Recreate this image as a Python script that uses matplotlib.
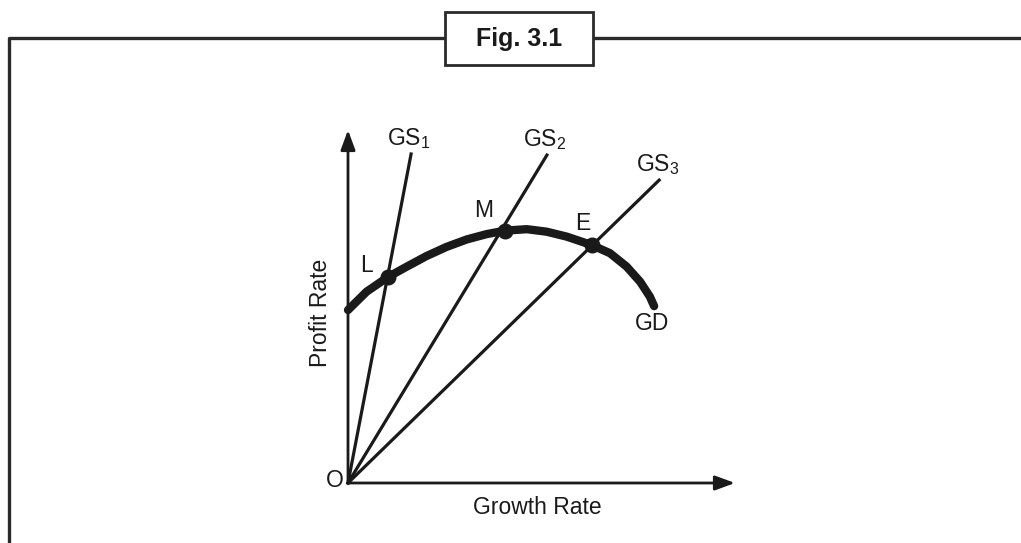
import matplotlib
matplotlib.use('Agg')
import matplotlib.pyplot as plt
from matplotlib.patches import Rectangle
from matplotlib.lines import Line2D

plt.rcParams['font.family'] = ['Liberation Sans', 'DejaVu Sans']
plt.rcParams['mathtext.fontset'] = 'custom'
plt.rcParams['mathtext.rm'] = 'Liberation Sans'
plt.rcParams['mathtext.it'] = 'Liberation Sans'
plt.rcParams['mathtext.default'] = 'regular'

# curva GD (tasa de crecimiento vs tasa de beneficio)
gd_x = [0, 4.8, 10.4, 15.2, 20.3, 25.5, 30.7, 35.8, 40.6, 46.2, 51.3,
        56.5, 63.0, 67.7, 72.0, 75.5, 78.0, 79.1]
gd_y = [49.0, 54.2, 58.4, 61.3, 64.3, 66.9, 69.0, 70.5, 71.5, 71.9, 71.2,
        69.8, 67.4, 65.1, 61.3, 57.0, 52.8, 50.1]

# puntos de equilibrio L, M, E
pt_names = ['L', 'M', 'E']
pt_x = [10.4, 40.6, 63.0]
pt_y = [58.4, 71.5, 67.4]

# rectas GS desde el origen (extremo superior)
gs_names = ['GS$_1$', 'GS$_2$', 'GS$_3$']
gs_x = [16.3, 51.4, 80.4]
gs_y = [93.2, 92.9, 85.8]

ink = '#1a1a1a'
W, H = 1021, 543
fig = plt.figure(figsize=(W / 100, H / 100), dpi=100)

# marco con el titulo "Fig. 3.1"
deco = fig.add_axes([0, 0, 1, 1])
deco.set_xlim(0, W)
deco.set_ylim(H, 0)
deco.axis('off')
deco.add_line(Line2D([9, 9, W], [H, 38, 38], color='#2a2a2a', lw=2.4))
deco.add_patch(Rectangle((445, 12), 148, 53, facecolor='white',
                         edgecolor='#2a2a2a', lw=2.0, zorder=3))
deco.text(519, 39, 'Fig. 3.1', ha='center', va='center', fontsize=18,
          fontweight='bold', color=ink, zorder=4)

# diagrama
ax = fig.add_axes([348 / W, (H - 483) / H, 387 / W, 353 / H])
ax.set_xlim(0, 100)
ax.set_ylim(0, 100)
ax.axis('off')

arrow = dict(arrowstyle='-|>,head_length=0.6,head_width=0.22',
             mutation_scale=20, lw=2.0, color=ink, shrinkA=0, shrinkB=0)
ax.annotate('', xy=(100, 0), xytext=(0, 0), arrowprops=arrow, annotation_clip=False)
ax.annotate('', xy=(0, 100), xytext=(0, 0), arrowprops=arrow, annotation_clip=False)

for x1, y1 in zip(gs_x, gs_y):
    ax.plot([0, x1], [0, y1], color=ink, lw=2.3, clip_on=False)

ax.plot(gd_x, gd_y, color=ink, lw=6.0, solid_capstyle='round',
        solid_joinstyle='round', clip_on=False)
ax.plot(pt_x, pt_y, 'o', color=ink, ms=10.5, clip_on=False)

fs = 16.5
for name, x1, y1 in zip(gs_names, gs_x, gs_y):
    ax.text(x1 - 0.5, y1 + 4.5, name, ha='center', va='center', fontsize=fs, color=ink)

offs = {'L': (-5.5, 3.1), 'M': (-5.5, 5.6), 'E': (-2.3, 6.0)}
for name, x1, y1 in zip(pt_names, pt_x, pt_y):
    dx, dy = offs[name]
    ax.text(x1 + dx, y1 + dy, name, ha='center', va='center', fontsize=fs, color=ink)

ax.text(gd_x[-1] - 0.5, gd_y[-1] - 5.0, 'GD', ha='center', va='center', fontsize=fs, color=ink)
ax.text(-3.4, 0.8, 'O', ha='center', va='center', fontsize=fs, color=ink)
ax.text(48.8, -6.8, 'Growth Rate', ha='center', va='center', fontsize=fs, color=ink)
ax.text(-7.2, 48.2, 'Profit Rate', ha='center', va='center', rotation=90,
        fontsize=fs, color=ink)

fig.savefig('out.png', dpi=100, facecolor='white')
